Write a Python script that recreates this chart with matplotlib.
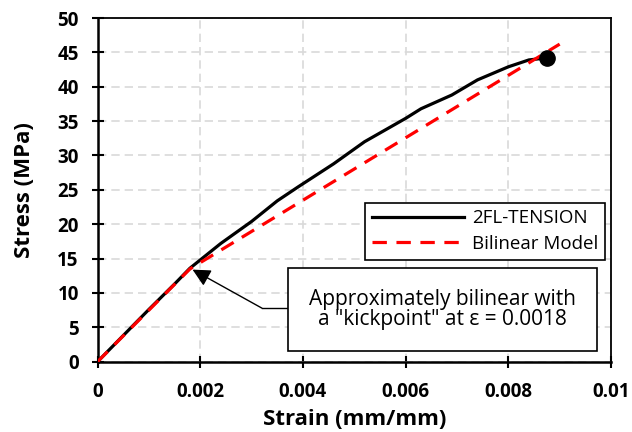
import matplotlib
matplotlib.use("Agg")
import matplotlib.pyplot as plt
from matplotlib.ticker import FuncFormatter

# test data
strain = [0, 0.0005, 0.001, 0.0015, 0.0018, 0.002, 0.0024, 0.003, 0.0035,
          0.0039, 0.0046, 0.0052, 0.006, 0.0063, 0.0069, 0.0074, 0.008,
          0.0084, 0.00875]
stress = [0, 3.8, 7.6, 11.3, 13.6, 14.8, 17.2, 20.4, 23.4,
          25.4, 28.8, 32.0, 35.4, 36.8, 38.8, 41.0, 42.9,
          43.9, 44.2]

# bilinear fit
model_strain = [0, 0.0018, 0.009]
model_stress = [0, 13.5, 46.2]

x_ticks = [0, 0.002, 0.004, 0.006, 0.008, 0.01]
y_ticks = [0, 5, 10, 15, 20, 25, 30, 35, 40, 45, 50]

note = "Approximately bilinear with\na \"kickpoint\" at ε = 0.0018"
note_pos = (0.00672, 7.6)
elbow = (0.0032, 7.8)
kick = (0.00185, 13.4)

plt.rcParams["font.family"] = ["Open Sans", "DejaVu Sans"]

fig = plt.figure(figsize=(6.32, 4.32), dpi=100)
ax = fig.add_axes([0.1543, 0.1627, 0.8125, 0.7956])

ax.plot(strain, stress, color="black", lw=2.3, label="2FL-TENSION", zorder=3)
ax.plot(model_strain, model_stress, color="red", lw=2.3, ls=(0, (4.5, 3)),
        label="Bilinear Model", zorder=4)
ax.plot(strain[-1], stress[-1], "o", color="black", ms=11, zorder=5)

ax.set_xlim(0, 0.01)
ax.set_ylim(0, 50)
ax.set_xticks(x_ticks)
ax.set_yticks(y_ticks)
ax.xaxis.set_major_formatter(FuncFormatter(lambda v, p: "0" if v == 0 else f"{v:g}"))
ax.grid(True, color="#d9d9d9", ls=(0, (5, 3)), lw=1.2)
ax.set_axisbelow(True)

for s in ["left", "bottom"]:
    ax.spines[s].set_linewidth(1.8)
for s in ["top", "right"]:
    ax.spines[s].set_linewidth(1.3)

ax.tick_params(direction="inout", length=9, width=1.5, labelsize=13.5)
ax.tick_params(axis="x", pad=10)
ax.tick_params(axis="y", pad=9)
for lab in ax.get_xticklabels() + ax.get_yticklabels():
    lab.set_fontweight("bold")

ax.set_xlabel("Strain (mm/mm)", fontsize=16, fontweight="bold", labelpad=5)
ax.set_ylabel("Stress (MPa)", fontsize=16, fontweight="bold", labelpad=16)

leg = ax.legend(loc="upper right", bbox_to_anchor=(0.988, 0.462), borderaxespad=0,
                fontsize=13.5, frameon=True, fancybox=False, edgecolor="black",
                handlelength=4.9, handletextpad=0.45, borderpad=0.35,
                labelspacing=0.4, framealpha=1)
leg.get_frame().set_linewidth(1.2)

# text box with elbow leader
ax.text(*note_pos, note, fontsize=15, ha="center", va="center", linespacing=0.97,
        bbox=dict(boxstyle="square,pad=1.0", fc="white", ec="black", lw=1.2),
        zorder=7)
ax.plot([elbow[0], note_pos[0]], [elbow[1], elbow[1]], color="black", lw=1, zorder=6)
ax.annotate("", xy=kick, xytext=elbow,
            arrowprops=dict(arrowstyle="-|>,head_length=0.6,head_width=0.3",
                            color="black", lw=1, mutation_scale=18,
                            shrinkA=0, shrinkB=0),
            zorder=6)

fig.savefig("out.png", dpi=100)
